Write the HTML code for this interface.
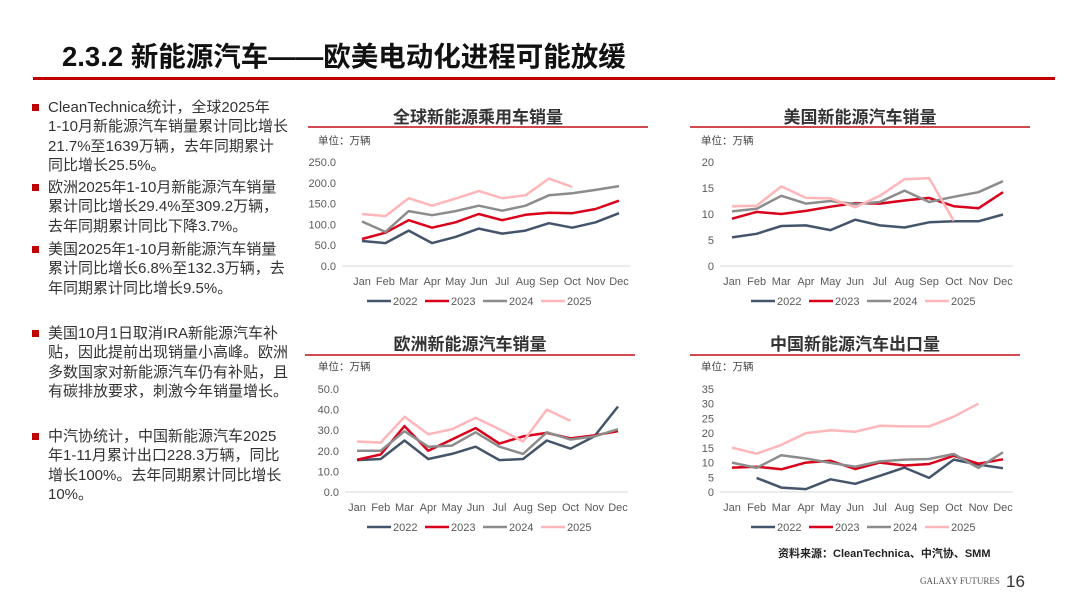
<!DOCTYPE html>
<html><head><meta charset="utf-8">
<style>
body{margin:0;width:1080px;height:608px;background:#fff;position:relative;overflow:hidden;font-family:"Liberation Sans","Noto Sans CJK SC",sans-serif;}
.abs{position:absolute;}
#title{left:62px;top:34px;font-size:27.5px;font-weight:bold;color:#111;}
#rule{left:33px;top:77px;width:1022px;height:3px;background:#c00000;}
.bul{position:absolute;left:48px;font-size:15px;line-height:19.3px;color:#333;white-space:nowrap;}
.bul:before{content:"";position:absolute;left:-16px;top:6px;width:7px;height:7px;background:#c00000;}
.ct{position:absolute;font-size:17px;font-weight:bold;color:#333;text-align:center;}
.cl{position:absolute;height:2px;background:#d04a50;}
svg text{font-family:"Liberation Sans","Noto Sans CJK SC",sans-serif;}
</style></head><body>
<div id="title" class="abs">2.3.2 新能源汽车——欧美电动化进程可能放缓</div>
<div id="rule" class="abs"></div>

<div class="bul" style="top:98px">CleanTechnica统计，全球2025年<br>1-10月新能源汽车销量累计同比增长<br>21.7%至1639万辆，去年同期累计<br>同比增长25.5%。</div>
<div class="bul" style="top:178px">欧洲2025年1-10月新能源汽车销量<br>累计同比增长29.4%至309.2万辆，<br>去年同期累计同比下降3.7%。</div>
<div class="bul" style="top:240px">美国2025年1-10月新能源汽车销量<br>累计同比增长6.8%至132.3万辆，去<br>年同期累计同比增长9.5%。</div>
<div class="bul" style="top:324px">美国10月1日取消IRA新能源汽车补<br>贴，因此提前出现销量小高峰。欧洲<br>多数国家对新能源汽车仍有补贴，且<br>有碳排放要求，刺激今年销量增长。</div>
<div class="bul" style="top:427px">中汽协统计，中国新能源汽车2025<br>年1-11月累计出口228.3万辆，同比<br>增长100%。去年同期累计同比增长<br>10%。</div>

<div class="ct" style="left:308px;top:103px;width:340px">全球新能源乘用车销量</div>
<div class="cl" style="left:308px;top:126px;width:340px"></div>
<div class="ct" style="left:690px;top:103px;width:340px">美国新能源汽车销量</div>
<div class="cl" style="left:690px;top:126px;width:340px"></div>
<div class="ct" style="left:305px;top:330px;width:330px">欧洲新能源汽车销量</div>
<div class="cl" style="left:305px;top:354px;width:330px"></div>
<div class="ct" style="left:690px;top:330px;width:330px">中国新能源汽车出口量</div>
<div class="cl" style="left:690px;top:354px;width:330px"></div>

<svg id="sv" class="abs" style="left:0;top:0" width="1080" height="608"></svg>

<div class="abs" style="left:778px;top:545px;font-size:11px;font-weight:bold;color:#222">资料来源：CleanTechnica、中汽协、SMM</div>
<div class="abs" style="left:920px;top:576px;font-size:9px;color:#555;font-family:'Liberation Serif',serif">GALAXY FUTURES</div>
<div class="abs" style="left:1006px;top:572px;font-size:17px;color:#333">16</div>

<script>
const months=["Jan","Feb","Mar","Apr","May","Jun","Jul","Aug","Sep","Oct","Nov","Dec"];
const years=["2022","2023","2024","2025"];
const colors=["#44546a","#d9001b","#8c8c8c","#ffb6b9"];
// Global
const globalTicks=["0.0","50.0","100.0","150.0","200.0","250.0"];
const global2022=[60,55,85,55,70,90,78,85,103,92,105,127];
const global2023=[65,80,110,92,105,125,110,123,128,127,137,157];
const global2024=[107,82,132,122,132,145,133,145,170,175,183,192];
const global2025=[125,120,163,145,162,180,163,170,210,190];
// US
const usTicks=["0","5","10","15","20"];
const us2022=[5.5,6.2,7.7,7.8,6.9,8.9,7.8,7.4,8.4,8.6,8.6,9.9];
const us2023=[9.1,10.4,10.0,10.6,11.4,12.1,12.0,12.6,13.1,11.5,11.1,14.2];
const us2024=[10.5,11.0,13.5,12.0,12.5,11.9,12.3,14.5,12.3,13.3,14.2,16.3];
const us2025=[11.5,11.6,15.3,13.1,13.0,11.3,13.5,16.7,16.9,8.7];
// Europe
const euTicks=["0.0","10.0","20.0","30.0","40.0","50.0"];
const eu2022=[15.5,16,25,16,18.5,22,15.5,16,25,21,27,41.5];
const eu2023=[15.7,18.2,32,20,25.5,31,23.5,27,28.7,26,27.5,29.5];
const eu2024=[20,20,29.5,22,22.5,29,22,18.5,29,25.5,27,30.5];
const eu2025=[24.5,24,36.5,28,30.5,36,30.5,24.5,40,34.5];
// China export
const cnTicks=["0","5","10","15","20","25","30","35"];
const cn2022=[null,4.8,1.5,1.0,4.3,2.8,5.5,8.3,4.8,11,9.3,8.1];
const cn2023=[8.3,8.6,7.7,10,10.6,7.8,10,9,9.5,12.3,9.6,11.1];
const cn2024=[10,8.2,12.5,11.4,9.9,8.6,10.4,11,11.2,12.9,8.2,13.5];
const cn2025=[15.1,13,16,20,21,20.5,22.5,22.3,22.3,25.6,30];

const sv=document.getElementById('sv');
const NS="http://www.w3.org/2000/svg";
function mk(t,a,p){const e=document.createElementNS(NS,t);for(const k in a)e.setAttribute(k,a[k]);(p||sv).appendChild(e);return e;}

function chart(cfg,name){
  const g=mk('g',{});
  
  
  const max=parseFloat(cfg.ticks[cfg.ticks.length-1]);
  const y=v=>cfg.y0-(v/max)*(cfg.y0-cfg.y1);
  const x=i=>cfg.x0+i*(cfg.x1-cfg.x0)/11;
  const u=mk('text',{x:cfg.ux,y:cfg.uy,'font-size':10.5,fill:'#444'},g);u.textContent="单位：万辆";
  
  
  cfg.ticks.forEach((t,i)=>{const v=parseFloat(t);
    const e=mk('text',{x:cfg.ax0-6,y:y(v)+4,'font-size':11,fill:'#595959','text-anchor':'end'},g);e.textContent=t;
    
    });
  const ax=mk('line',{x1:cfg.ax0,x2:cfg.ax1,y1:cfg.y0,y2:cfg.y0,stroke:'#d9d9d9','stroke-width':1},g);
  
  
  months.forEach((m,i)=>{const e=mk('text',{x:x(i),y:cfg.y0+19,'font-size':11,fill:'#595959','text-anchor':'middle'},g);e.textContent=m;
    
    });
  cfg.series.forEach((s,k)=>{let d="";let pen=false;
    s.forEach((v,i)=>{if(v==null){pen=false;return;}d+=(pen?"L":"M")+x(i).toFixed(1)+","+y(v).toFixed(1);pen=true;});
    const p=mk('path',{d:d,fill:'none',stroke:colors[k],'stroke-width':2.5,'stroke-linejoin':'round'},g);
    
    });
  years.forEach((yr,k)=>{const lx=cfg.lx+k*58;
    const l=mk('line',{x1:lx,x2:lx+24,y1:cfg.ly,y2:cfg.ly,stroke:colors[k],'stroke-width':2.5},g);
    
    
    const t=mk('text',{x:lx+26,y:cfg.ly+4,'font-size':11,fill:'#595959'},g);t.textContent=yr;
    
    });
}
chart({ticks:globalTicks,series:[global2022,global2023,global2024,global2025],y0:266,y1:162,x0:362,x1:619,ax0:342,ax1:630,ux:318,uy:144,lx:367,ly:301},'chart-global');
chart({ticks:usTicks,series:[us2022,us2023,us2024,us2025],y0:266,y1:162,x0:732,x1:1003,ax0:720,ax1:1013,ux:701,uy:144,lx:751,ly:301},'chart-us');
chart({ticks:euTicks,series:[eu2022,eu2023,eu2024,eu2025],y0:492,y1:389,x0:357,x1:618,ax0:345,ax1:628,ux:318,uy:370,lx:367,ly:527},'chart-europe');
chart({ticks:cnTicks,series:[cn2022,cn2023,cn2024,cn2025],y0:492,y1:389,x0:732,x1:1003,ax0:720,ax1:1013,ux:701,uy:370,lx:751,ly:527},'chart-china-export');
</script>
</body></html>
